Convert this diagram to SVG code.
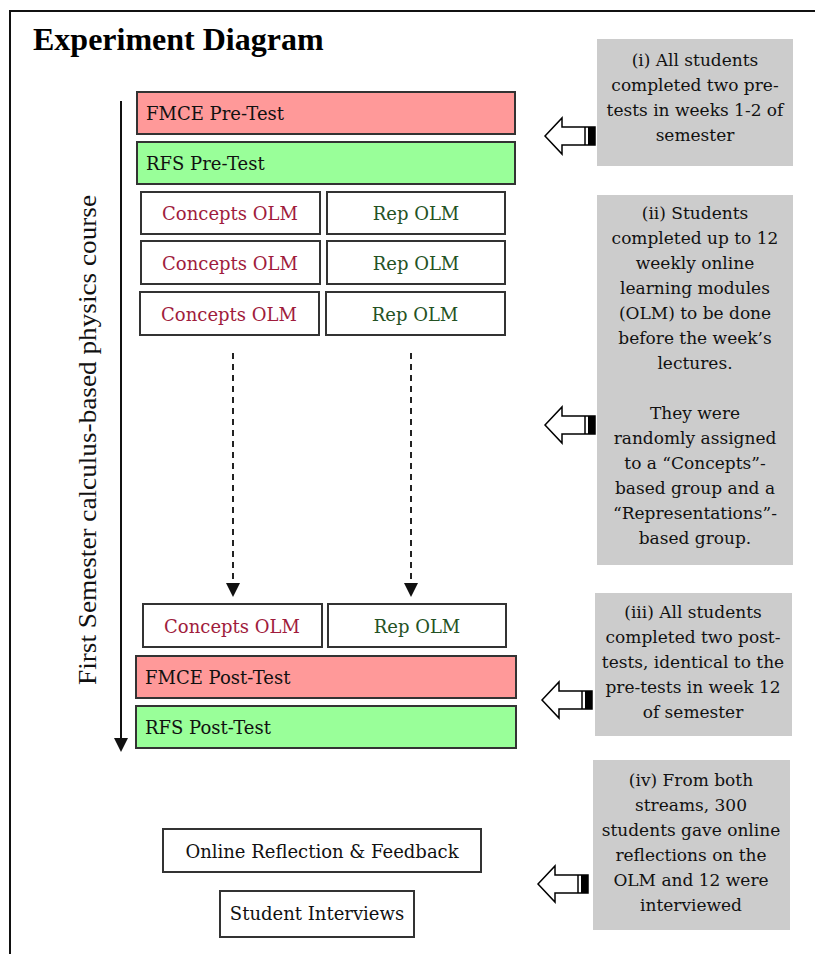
<svg xmlns="http://www.w3.org/2000/svg" width="815" height="954" viewBox="0 0 815 954">
<style>
.box{stroke:#333;stroke-width:2}
.t{font-family:"DejaVu Serif","Liberation Serif",serif;font-size:18px;fill:#111}
.c{fill:#a01c3c}
.r{fill:#245224}
.note{fill:#cccccc}
.nt{font-family:"DejaVu Serif","Liberation Serif",serif;font-size:17px;fill:#111;text-anchor:middle}
.mid{text-anchor:middle}
</style>
<defs>
<g id="harrow">
<path d="M0,0 L17,-18 L17,-9 L50,-9 L50,9 L17,9 L17,18 Z" fill="#fff" stroke="#000" stroke-width="1.5"/>
<rect x="43" y="-9" width="7" height="18" fill="#000"/>
<line x1="40" y1="-9" x2="40" y2="9" stroke="#000" stroke-width="1.5"/>
</g>
</defs>
<rect width="815" height="954" fill="#fff"/>
<path d="M10,954 L10,11 L815,11" fill="none" stroke="#111" stroke-width="2"/>
<text x="33" y="50" font-family="Liberation Serif,serif" font-weight="bold" font-size="32">Experiment Diagram</text>

<g id="axis">
<line x1="121" y1="101" x2="121" y2="740" stroke="#111" stroke-width="2"/>
<polygon points="114,738 128,738 121,752" fill="#111"/>
<text transform="translate(96,440) rotate(-90)" text-anchor="middle" font-family="Liberation Serif,serif" font-size="26" textLength="490" lengthAdjust="spacingAndGlyphs" fill="#111">First Semester calculus-based physics course</text>
</g>

<g id="fmce-pre"><rect class="box" x="137" y="92" width="378" height="42" fill="#ff9999"/><text class="t" x="146" y="120">FMCE Pre-Test</text></g>
<g id="rfs-pre"><rect class="box" x="137" y="142" width="378" height="42" fill="#99ff99"/><text class="t" x="146" y="170">RFS Pre-Test</text></g>

<g id="concepts1"><rect class="box" x="141" y="192" width="179" height="42" fill="#fff"/><text class="t c mid" x="230" y="220">Concepts OLM</text></g>
<g id="rep1"><rect class="box" x="327" y="192" width="178" height="42" fill="#fff"/><text class="t r mid" x="416" y="220">Rep OLM</text></g>
<g id="concepts2"><rect class="box" x="141" y="241" width="179" height="43" fill="#fff"/><text class="t c mid" x="230" y="270">Concepts OLM</text></g>
<g id="rep2"><rect class="box" x="327" y="241" width="178" height="43" fill="#fff"/><text class="t r mid" x="416" y="270">Rep OLM</text></g>
<g id="concepts3"><rect class="box" x="140" y="292" width="179" height="43" fill="#fff"/><text class="t c mid" x="229" y="321">Concepts OLM</text></g>
<g id="rep3"><rect class="box" x="326" y="292" width="179" height="43" fill="#fff"/><text class="t r mid" x="415" y="321">Rep OLM</text></g>

<g id="concepts4"><rect class="box" x="143" y="604" width="179" height="43" fill="#fff"/><text class="t c mid" x="232" y="633">Concepts OLM</text></g>
<g id="rep4"><rect class="box" x="328" y="604" width="178" height="43" fill="#fff"/><text class="t r mid" x="417" y="633">Rep OLM</text></g>

<g id="fmce-post"><rect class="box" x="136" y="656" width="380" height="42" fill="#ff9999"/><text class="t" x="145" y="684">FMCE Post-Test</text></g>
<g id="rfs-post"><rect class="box" x="136" y="706" width="380" height="42" fill="#99ff99"/><text class="t" x="145" y="734">RFS Post-Test</text></g>

<g id="reflection"><rect class="box" x="163" y="829" width="318" height="43" fill="#fff"/><text class="t mid" x="322" y="858">Online Reflection &amp; Feedback</text></g>
<g id="interviews"><rect class="box" x="220" y="891" width="194" height="46" fill="#fff"/><text class="t mid" x="317" y="920">Student Interviews</text></g>

<g id="connectors">
<line x1="233" y1="353" x2="233" y2="584" stroke="#222" stroke-width="2" stroke-dasharray="6 5"/>
<polygon points="226,583 240,583 233,597" fill="#111"/>
<line x1="411" y1="353" x2="411" y2="584" stroke="#222" stroke-width="2" stroke-dasharray="6 5"/>
<polygon points="404,583 418,583 411,597" fill="#111"/>
<use href="#harrow" x="545" y="136"/>
<use href="#harrow" x="545" y="425"/>
<use href="#harrow" x="542" y="700"/>
<use href="#harrow" x="538" y="884"/>
</g>

<g id="note1">
<rect class="note" x="597" y="39" width="196" height="127"/>
<text class="nt" x="695" y="66">(i) All students</text>
<text class="nt" x="695" y="91">completed two pre-</text>
<text class="nt" x="695" y="116">tests in weeks 1-2 of</text>
<text class="nt" x="695" y="141">semester</text>
</g>
<g id="note2">
<rect class="note" x="597" y="195" width="196" height="370"/>
<text class="nt" x="695" y="219">(ii) Students</text>
<text class="nt" x="695" y="244">completed up to 12</text>
<text class="nt" x="695" y="269">weekly online</text>
<text class="nt" x="695" y="294">learning modules</text>
<text class="nt" x="695" y="319">(OLM) to be done</text>
<text class="nt" x="695" y="344">before the week’s</text>
<text class="nt" x="695" y="369">lectures.</text>
<text class="nt" x="695" y="419">They were</text>
<text class="nt" x="695" y="444">randomly assigned</text>
<text class="nt" x="695" y="469">to a “Concepts”-</text>
<text class="nt" x="695" y="494">based group and a</text>
<text class="nt" x="695" y="519">“Representations”-</text>
<text class="nt" x="695" y="544">based group.</text>
</g>
<g id="note3">
<rect class="note" x="595" y="593" width="197" height="143"/>
<text class="nt" x="693" y="618">(iii) All students</text>
<text class="nt" x="693" y="643">completed two post-</text>
<text class="nt" x="693" y="668">tests, identical to the</text>
<text class="nt" x="693" y="693">pre-tests in week 12</text>
<text class="nt" x="693" y="718">of semester</text>
</g>
<g id="note4">
<rect class="note" x="593" y="760" width="197" height="170"/>
<text class="nt" x="691" y="786">(iv) From both</text>
<text class="nt" x="691" y="811">streams, 300</text>
<text class="nt" x="691" y="836">students gave online</text>
<text class="nt" x="691" y="861">reflections on the</text>
<text class="nt" x="691" y="886">OLM and 12 were</text>
<text class="nt" x="691" y="911">interviewed</text>
</g>
</svg>
